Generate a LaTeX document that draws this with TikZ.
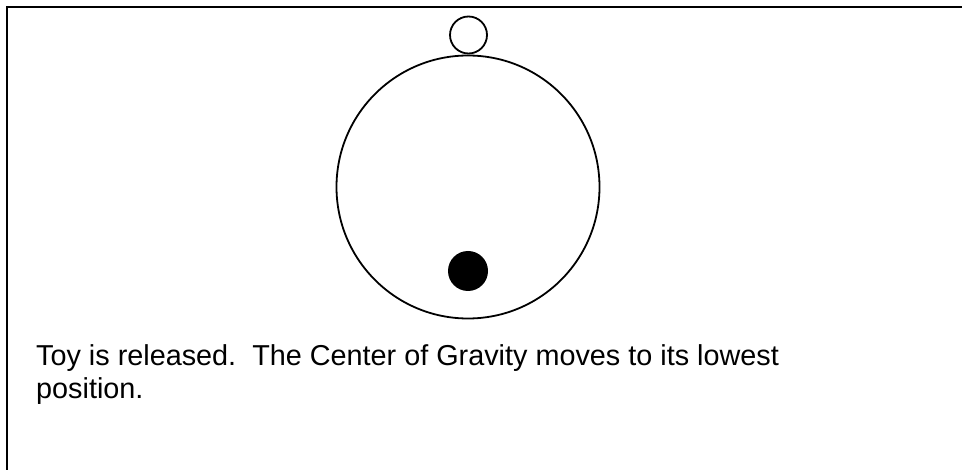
\documentclass[tikz,border=0pt]{standalone}
\usepackage{fontspec}
\setmainfont{Liberation Sans}
\begin{document}
\begin{tikzpicture}[x=1pt,y=-1pt,
  ring/.style={circle,draw,line width=1.8pt,inner sep=0pt},
  weight/.style={circle,fill=black,inner sep=0pt},
  caption/.style={anchor=base west,inner sep=0pt,align=left,font=\fontsize{28.8}{33}\selectfont}]
\useasboundingbox (0,0) rectangle (962,470);
\draw[line width=2pt] (7,470) -- (7,7) -- (962,7);
\node[ring,minimum size=263pt] (body) at (468,187) {};
\node[ring,minimum size=37pt] (top) at (468.5,35) {};
\node[weight,minimum size=40pt] (cg) at (468,271) {};
\node[caption] (txt) at (36,399) {Toy is released.\ \ The Center of Gravity moves to its lowest\\position.};
\end{tikzpicture}
\end{document}
